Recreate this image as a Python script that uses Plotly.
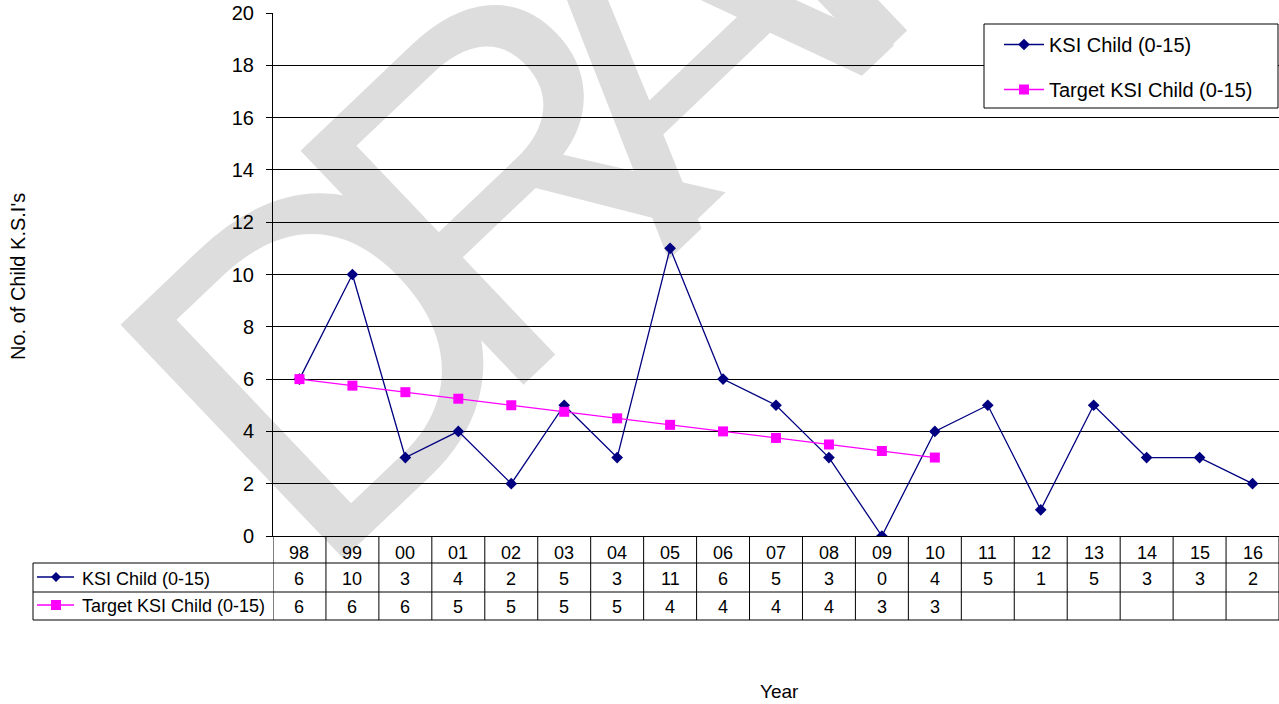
import math
import plotly.graph_objects as go

# ---------------- data ----------------
years = ["98", "99", "00", "01", "02", "03", "04", "05", "06", "07",
         "08", "09", "10", "11", "12", "13", "14", "15", "16"]
ksi_child = [6, 10, 3, 4, 2, 5, 3, 11, 6, 5, 3, 0, 4, 5, 1, 5, 3, 3, 2]
target_ksi_child = [6, 5.75, 5.5, 5.25, 5, 4.75, 4.5, 4.25, 4, 3.75, 3.5, 3.25, 3]
series_names = ["KSI Child (0-15)", "Target KSI Child (0-15)"]
y_tick_values = [0, 2, 4, 6, 8, 10, 12, 14, 16, 18, 20]
x_title = "Year"
y_title = "No. of Child K.S.I's"
watermark_text = "DRAFT"

# ---------------- layout helpers ----------------
W, H = 1279, 704
L, R, T, B = 273, 1279, 13, 536
FONT = "Liberation Sans, Arial, sans-serif"
NAVY = "#000080"
MAGENTA = "#FF00FF"


def px(x):
    return (x - L) / (R - L)


def py(y):
    return (B - y) / (B - T)


def excel_round(v):
    return str(int(math.floor(v + 0.5)))


fig = go.Figure()
fig.add_trace(go.Scatter(
    x=years, y=ksi_child, mode="lines+markers", name=series_names[0],
    legendgroup="a",
    line=dict(color=NAVY, width=1.3),
    marker=dict(symbol="diamond", size=9, color=NAVY),
))
fig.add_trace(go.Scatter(
    x=years[:len(target_ksi_child)], y=target_ksi_child, mode="lines+markers",
    name=series_names[1], legendgroup="b",
    line=dict(color=MAGENTA, width=1.3),
    marker=dict(symbol="square", size=10, color=MAGENTA),
))

shapes = []
annotations = []

# watermark (drawn below gridlines), one rotated glyph per letter
WM_SIZE = 470
WM_ANGLE = 43.6
vx, vy = math.sin(math.radians(WM_ANGLE)), math.cos(math.radians(WM_ANGLE))
shift = 0.082 * WM_SIZE
wm_centers = [(322, 346), (502, 172), (665, 30), (835, -134), (994, -286)]
for ch, (cx, cy) in zip(watermark_text, wm_centers):
    cx, cy = cx - shift * vx, cy - shift * vy
    shapes.append(dict(
        type="rect", xref="paper", yref="paper",
        x0=px(cx - 1), x1=px(cx + 1), y0=py(cy + 1), y1=py(cy - 1),
        line=dict(width=0), fillcolor="rgba(0,0,0,0)", layer="below",
        label=dict(text=ch, textangle=-WM_ANGLE, textposition="middle center",
                   font=dict(size=WM_SIZE, color="#dddddd", family=FONT)),
    ))

# legend frame
shapes.append(dict(type="rect", xref="paper", yref="paper",
                   x0=px(984), x1=px(1278), y0=py(108), y1=py(24),
                   fillcolor="white", line=dict(color="black", width=1), layer="above"))

# data table lines
line_style = dict(color="black", width=1)
for yy in (563, 592, 620):
    shapes.append(dict(type="line", xref="paper", yref="paper",
                       x0=px(33), x1=1.0, y0=py(yy), y1=py(yy),
                       line=line_style, layer="above"))
shapes.append(dict(type="line", xref="paper", yref="paper",
                   x0=px(33), x1=px(33), y0=py(563), y1=py(620),
                   line=line_style, layer="above"))
for k in range(len(years) + 1):
    shapes.append(dict(type="line", xref="x", yref="paper",
                       x0=k - 0.5, x1=k - 0.5, y0=py(536), y1=py(620),
                       line=line_style, layer="above"))

# legend keys inside the table
key_rows = [577, 605]
for i, yy in enumerate(key_rows):
    col = NAVY if i == 0 else MAGENTA
    shapes.append(dict(type="line", xref="paper", yref="paper",
                       x0=px(37), x1=px(74), y0=py(yy), y1=py(yy),
                       line=dict(color=col, width=1.3), layer="above"))
cx, cy = 56, key_rows[0]
shapes.append(dict(type="path", xref="paper", yref="paper",
                   path=f"M{px(cx)},{py(cy-5)} L{px(cx+5)},{py(cy)} L{px(cx)},{py(cy+5)} L{px(cx-5)},{py(cy)} Z",
                   fillcolor=NAVY, line=dict(width=0), layer="above"))
cx, cy = 56, key_rows[1]
shapes.append(dict(type="rect", xref="paper", yref="paper",
                   x0=px(cx - 5), x1=px(cx + 5), y0=py(cy + 5), y1=py(cy - 5),
                   fillcolor=MAGENTA, line=dict(width=0), layer="above"))

tfont = dict(family=FONT, size=18, color="black")
for i, yr in enumerate(years):
    annotations.append(dict(x=i, y=py(553), xref="x", yref="paper", text=yr,
                            showarrow=False, font=tfont, xanchor="center", yanchor="middle"))
    annotations.append(dict(x=i, y=py(579), xref="x", yref="paper",
                            text=str(ksi_child[i]), showarrow=False, font=tfont,
                            xanchor="center", yanchor="middle"))
    if i < len(target_ksi_child):
        annotations.append(dict(x=i, y=py(607), xref="x", yref="paper",
                                text=excel_round(target_ksi_child[i]), showarrow=False,
                                font=tfont, xanchor="center", yanchor="middle"))
for name, yy in zip(series_names, (579, 606)):
    annotations.append(dict(x=px(80), y=py(yy), xref="paper", yref="paper", text=name,
                            showarrow=False, font=tfont, xanchor="left", yanchor="middle"))

# axis titles
annotations.append(dict(x=px(18), y=py(276), xref="paper", yref="paper", text=y_title,
                        textangle=-90, showarrow=False,
                        font=dict(family=FONT, size=20, color="black"),
                        xanchor="center", yanchor="middle"))
annotations.append(dict(x=px(779), y=py(691), xref="paper", yref="paper", text=x_title,
                        showarrow=False, font=dict(family=FONT, size=19, color="black"),
                        xanchor="center", yanchor="middle"))

fig.update_layout(
    width=W, height=H,
    margin=dict(l=L, r=W - R, t=T, b=H - B, pad=0),
    paper_bgcolor="white", plot_bgcolor="white",
    font=dict(family=FONT, color="black"),
    showlegend=True,
    legend=dict(x=px(999), y=py(25), xanchor="left", yanchor="top",
                bgcolor="rgba(0,0,0,0)", borderwidth=0,
                font=dict(family=FONT, size=20, color="black"),
                tracegroupgap=16, itemwidth=40),
    xaxis=dict(type="category", categoryorder="array", categoryarray=years,
               range=[-0.5, len(years) - 0.5], showticklabels=False, ticks="",
               showgrid=False, zeroline=False, showline=True,
               linecolor="black", linewidth=1, fixedrange=True),
    yaxis=dict(range=[0, 20], tickvals=y_tick_values, ticks="outside", ticklen=6,
               tickcolor="black", tickwidth=1, showgrid=True, gridcolor="black",
               gridwidth=1, zeroline=False, showline=True, linecolor="black",
               linewidth=1, tickfont=dict(family=FONT, size=20, color="black"),
               ticklabelstandoff=8, fixedrange=True),
    shapes=shapes,
    annotations=annotations,
)

fig.write_html("out.html")
